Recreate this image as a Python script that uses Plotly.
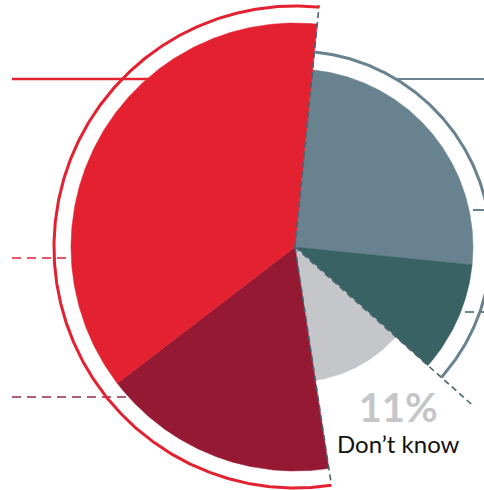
import numpy as np
import plotly.graph_objects as go

# ---- data ----
categories = ["Group B – option 1", "Group B – option 2", "Don't know",
              "Group A – option 2", "Group A – option 1"]
values = [25, 10, 11, 17, 37]          # percent, clockwise from the top
label_dk = "11%"
label_dk_text = "Don’t know"

# ---- styles ----
colors = ["#68838F", "#386264", "#C5C6CA", "#951932", "#E32130"]
radii = [178, 178, 135, 224, 224]      # wedge radius (px)
start_deg = 5.7                         # clockwise from 12 o'clock
dash_col = "#4A6470"

W, H = 484, 490
CX, CY = 295, 247                       # centre in pixels

def pol(r, deg):
    t = np.radians(deg)
    return r * np.sin(t), r * np.cos(t)

total = sum(values)
bounds = [start_deg]
for v in values:
    bounds.append(bounds[-1] + v / total * 360.0)

fig = go.Figure()

# wedges
for i, cat in enumerate(categories):
    th = np.linspace(bounds[i], bounds[i + 1], 240)
    ax, ay = pol(radii[i], th)
    xs = np.concatenate([[0], ax, [0]])
    ys = np.concatenate([[0], ay, [0]])
    fig.add_trace(go.Scatter(x=xs, y=ys, mode="lines", fill="toself",
                             fillcolor=colors[i],
                             line=dict(width=0.5, color=colors[i]),
                             name=cat, hoverinfo="name", showlegend=False))

# radial dashed separators
for ang, rr in [(bounds[0], 243), (bounds[2], 240), (bounds[3], 240)]:
    ex, ey = pol(rr, ang)
    fig.add_trace(go.Scatter(x=[0, ex], y=[0, ey], mode="lines",
                             line=dict(color=dash_col, width=1.6, dash="6px,4px"),
                             hoverinfo="skip", showlegend=False))

# outer group rings
th = np.linspace(bounds[3], bounds[5], 400)
rx, ry = pol(241, th)
fig.add_trace(go.Scatter(x=rx, y=ry, mode="lines",
                         line=dict(color="#E32130", width=3),
                         hoverinfo="skip", showlegend=False))
th = np.linspace(bounds[0], bounds[2], 300)
rx, ry = pol(196, th)
fig.add_trace(go.Scatter(x=rx, y=ry, mode="lines",
                         line=dict(color="#68838F", width=3),
                         hoverinfo="skip", showlegend=False))

def px(x):
    return x - CX

def py(y):
    return CY - y

shapes = [
    dict(x0=px(12), x1=px(200), y0=py(79), y1=py(79), color="#E32130", width=2.5, dash="solid"),
    dict(x0=px(397), x1=px(484), y0=py(79), y1=py(79), color="#68838F", width=2.2, dash="solid"),
    dict(x0=px(12), x1=px(110), y0=py(258), y1=py(258), color="#E32130", width=1.5, dash="9px,6px"),
    dict(x0=px(12), x1=px(180), y0=py(397), y1=py(397), color="#9B2A40", width=1.5, dash="9px,6px"),
    dict(x0=px(473), x1=px(484), y0=py(210), y1=py(210), color="#68838F", width=2, dash="solid"),
    dict(x0=px(420), x1=px(484), y0=py(312), y1=py(312), color="#386264", width=1.5, dash="9px,6px"),
]
for s in shapes:
    fig.add_shape(type="line", xref="x", yref="y", x0=s["x0"], x1=s["x1"],
                  y0=s["y0"], y1=s["y1"], layer="below",
                  line=dict(color=s["color"], width=s["width"], dash=s["dash"]))

label_html = (f"<span style='font-size:40px;color:#C5C6CA'><b>{label_dk}</b></span>"
              f"<br><span style='color:#111111'>{label_dk_text}</span>")
fig.add_annotation(x=px(398), y=py(420), text=label_html, showarrow=False,
                   align="center", xanchor="center", yanchor="middle",
                   font=dict(family="Lato", size=24, color="#111111"))

fig.update_layout(width=W, height=H, margin=dict(l=0, r=0, t=0, b=0),
                  paper_bgcolor="white", plot_bgcolor="white",
                  xaxis=dict(range=[-CX, W - CX], visible=False, fixedrange=True),
                  yaxis=dict(range=[CY - H, CY], visible=False, fixedrange=True),
                  showlegend=False)

fig.write_html("out.html", config={"displayModeBar": False},
               post_script="document.body.style.margin='0';document.body.style.overflow='hidden';")
